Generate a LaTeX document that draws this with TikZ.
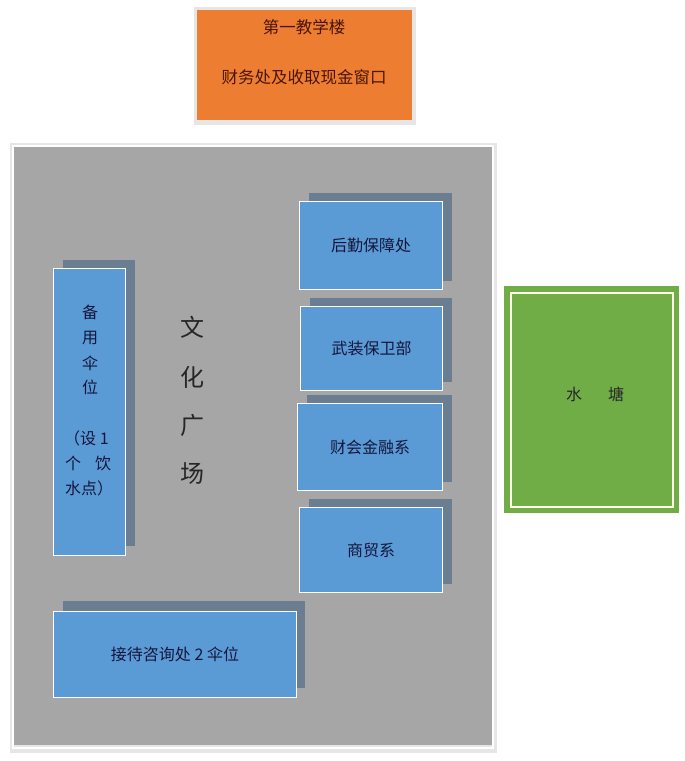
\documentclass[tikz,border=0pt]{standalone}
\usepackage{fontspec}
\newfontfamily\cjk{Noto Sans CJK SC}
\definecolor{orangebox}{HTML}{ED7D31}
\definecolor{orangetext}{HTML}{4A1508}
\definecolor{plaza}{HTML}{A7A6A6}
\definecolor{bluebox}{HTML}{5B9BD5}
\definecolor{shadowc}{HTML}{6A7D91}
\definecolor{navytext}{HTML}{14163C}
\definecolor{pond}{HTML}{70AD47}
\definecolor{frame}{HTML}{E6E6E6}
\begin{document}
\begin{tikzpicture}[x=1pt,y=-1pt,
  bx/.style={draw=white,line width=1pt,fill=bluebox},
  sh/.style={fill=shadowc},
  lbl/.style={font=\cjk\fontsize{16}{19}\selectfont,text=navytext,inner sep=0pt},
  big/.style={font=\cjk\fontsize{24}{27}\selectfont,text=black!85,inner sep=0pt}]
\useasboundingbox (0,0) rectangle (685,761);
\fill[white] (0,0) rectangle (685,761);
% top orange building
\fill[frame] (194,7) rectangle (416,125);
\node[fill=orangebox,minimum width=215,minimum height=110,inner sep=0pt,anchor=north west] (top) at (197,10) {};
\node[font=\cjk\fontsize{16.5}{19}\selectfont,text=orangetext,inner sep=0pt] (t1) at (304,27) {第一教学楼};
\node[font=\cjk\fontsize{16.5}{19}\selectfont,text=orangetext,inner sep=0pt] (t2) at (304,77) {财务处及收取现金窗口};
% plaza
\fill[frame] (10,143) rectangle (497,753);
\draw[white,line width=1.5pt] (13,146) rectangle (493,748);
\node[fill=plaza,minimum width=478,minimum height=598,inner sep=0pt,anchor=north west] (plaza) at (14,147) {};
% right boxes
\fill[sh] (309,193) rectangle (452,281);
\node[bx,minimum width=143,minimum height=88,inner sep=0pt,anchor=north west] (b1) at (299,201) {};
\node[lbl] at (b1) {后勤保障处};
\fill[sh] (310,298) rectangle (452,382);
\node[bx,minimum width=142,minimum height=84,inner sep=0pt,anchor=north west] (b2) at (300,306) {};
\node[lbl] at (b2) {武装保卫部};
\fill[sh] (307,395) rectangle (452,482);
\node[bx,minimum width=145,minimum height=87,inner sep=0pt,anchor=north west] (b3) at (297,403) {};
\node[lbl] at (b3) {财会金融系};
\fill[sh] (309,499) rectangle (452,584);
\node[bx,minimum width=143,minimum height=85,inner sep=0pt,anchor=north west] (b4) at (299,507) {};
\node[lbl] at (b4) {商贸系};
% left tall box
\fill[sh] (63,260) rectangle (135,546);
\node[bx,minimum width=72,minimum height=287,inner sep=0pt,anchor=north west] (lb) at (53,268) {};
\node[lbl] (l1) at (90,312) {备};
\node[lbl] (l2) at (90,338) {用};
\node[lbl] (l3) at (90,363) {伞};
\node[lbl] (l4) at (90,387) {位};
\node[lbl,anchor=west] (l5) at (64,438) {（设 1};
\node[lbl,anchor=west] (l6) at (65,463) {个\hspace{14pt}饮};
\node[lbl,anchor=west] (l7) at (65,488) {水点）};
% bottom box
\fill[sh] (63,601) rectangle (305,688);
\node[bx,minimum width=243,minimum height=86,inner sep=0pt,anchor=north west] (bb) at (53,611) {};
\node[lbl] at (bb) {接待咨询处 2 伞位};
% vertical title
\node[big] (w1) at (192,327) {文};
\node[big] (w2) at (192,377) {化};
\node[big] (w3) at (192,425) {广};
\node[big] (w4) at (192,474) {场};
% pond
\node[fill=pond,minimum width=175,minimum height=227,inner sep=0pt,anchor=north west] (pond) at (504,286) {};
\draw[white!90!yellow,line width=2pt] (511,293) rectangle (673,507);
\node[font=\cjk\fontsize{16}{19}\selectfont,text=black!85,inner sep=0pt] (pt) at (595,394) {水\hspace{26pt}塘};
\end{tikzpicture}
\end{document}
